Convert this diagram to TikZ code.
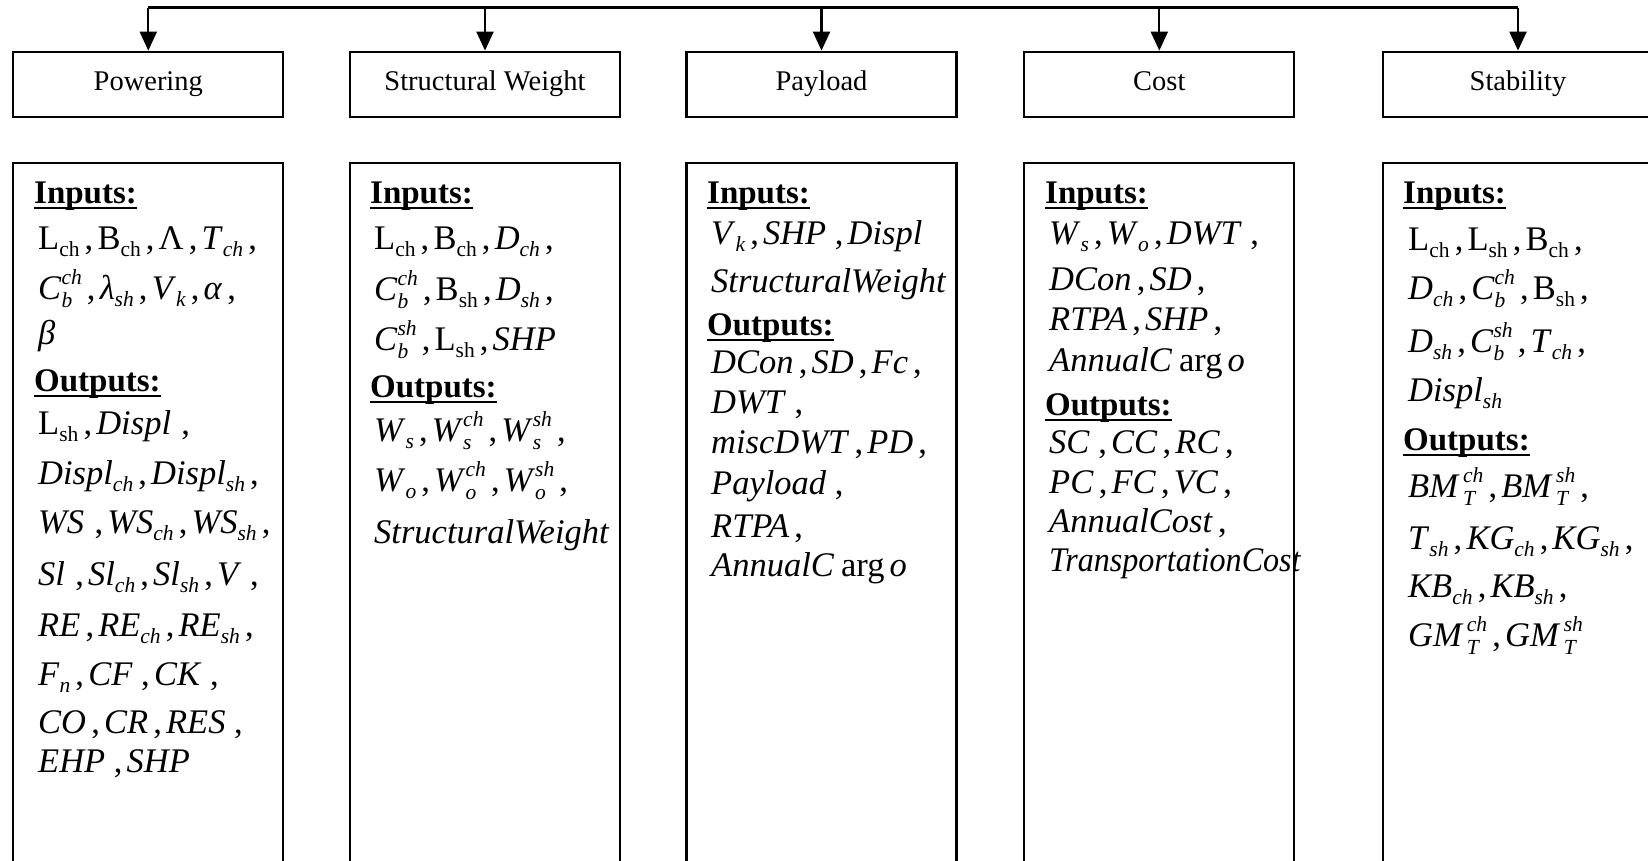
\documentclass[tikz,border=0pt]{standalone}
\usepackage{fontspec}
\usepackage{graphicx}
\setmainfont{Liberation Serif}
\usetikzlibrary{arrows.meta}

% font sizes
\newcommand\MainFont{\fontsize{34.5bp}{40bp}\selectfont}
\newcommand\LabelFont{\fontsize{33bp}{40bp}\selectfont}
\newcommand\HeadFont{\fontsize{28.5bp}{32bp}\selectfont}
\newcommand\SubFont{\fontsize{21.5bp}{21.5bp}\selectfont}

% subscripts / superscripts built in text mode
\newcommand\Lo[1]{\raisebox{-0.22em}{\SubFont #1}}
\newcommand\LoI[1]{\raisebox{-0.22em}{\SubFont\itshape #1}}
\newcommand\LoHi[2]{%
  \setbox0=\hbox{\raisebox{-0.24em}{\SubFont\itshape #1}}%
  \setbox2=\hbox{\raisebox{0.43em}{\SubFont\itshape #2}}%
  \ifdim\wd0>\wd2 \rlap{\copy2}\copy0 \else\rlap{\copy0}\copy2\fi}
\newcommand\Cm{\kern0.15em,\kern0.12em}
\newcommand\I[1]{\textit{#1}}

% underlined bold heading inside the panels
\newcommand\UL[1]{\setbox4=\hbox{#1}\rlap{\rule[-6bp]{\wd4}{2.5bp}}\box4}
\newcommand\Head[1]{{\LabelFont\UL{\textbf{#1}}}}

\tikzset{
  wire/.style={line width=2.2bp},
  drop/.style={wire, -{Triangle[width=17bp,length=19bp]}},
  headbox/.style={draw, line width=2.2bp, minimum width=270bp, minimum height=65bp,
    inner sep=0pt, font=\HeadFont, text height=19.5bp, text depth=7bp},
  panel/.style={draw, line width=2.2bp, minimum width=270bp, minimum height=800bp,
    inner sep=0pt, anchor=north},
  row/.style={anchor=base west, inner sep=0pt, font=\MainFont},
}

\begin{document}
\begin{tikzpicture}[x=1bp, y=-1bp]
\useasboundingbox (0,0) rectangle (1648,860);
\clip (0,0) rectangle (1648,860);

% module headers
\node[headbox] (powH) at (148.3,84.2) {Powering};
\node[headbox] (strH) at (485,84.2) {Structural Weight};
\node[headbox] (payH) at (821.5,84.2) {Payload};
\node[headbox] (cosH) at (1159.3,84.2) {Cost};
\node[headbox] (staH) at (1518,84.2) {Stability};

% distribution bus with drops to every module
\coordinate (busL) at (148.3,7.5);
\coordinate (busR) at (1518,7.5);
\draw[wire] (busL) -- (busR);
\foreach \h in {powH,strH,payH,cosH,staH}
  \draw[drop] (\h.north |- busL) -- (\h.north);

% input/output panels
\node[panel] (powP) at (148.3,161.5) {};
\node[panel] (strP) at (485,161.5) {};
\node[panel] (payP) at (821.5,161.5) {};
\node[panel] (cosP) at (1159.3,161.5) {};
\node[panel] (staP) at (1518,161.5) {};

% Powering
\node[row] (pw0) at (34,203) {\Head{Inputs:}};
\node[row] (pw1) at (38,249) {L\Lo{ch}\Cm B\Lo{ch}\Cm Λ\Cm\I{T}\LoI{ch}\Cm};
\node[row] (pw2) at (38,299) {\I{C}\LoHi{b}{ch}\Cm\I{λ}\LoI{sh}\Cm\I{V}\LoI{k}\Cm\I{α}\Cm};
\node[row] (pw3) at (38,344) {\I{β}};
\node[row] (pw4) at (34,391) {\Head{Outputs:}};
\node[row] (pw5) at (38,434) {L\Lo{sh}\Cm\I{Displ}\kern0.15em\Cm};
\node[row] (pw6) at (38,484) {\I{Displ}\LoI{ch}\Cm\I{Displ}\LoI{sh}\Cm};
\node[row] (pw7) at (38,533) {\I{WS}\kern0.15em\Cm\I{WS}\LoI{ch}\Cm\I{WS}\LoI{sh}\Cm};
\node[row] (pw8) at (38,585) {\I{Sl}\kern0.15em\Cm\I{Sl}\LoI{ch}\Cm\I{Sl}\LoI{sh}\Cm\I{V}\kern0.1em\Cm};
\node[row] (pw9) at (38,636) {\I{RE}\Cm\I{RE}\LoI{ch}\Cm\I{RE}\LoI{sh}\Cm};
\node[row] (pw10) at (38,685) {\I{F}\LoI{n}\Cm\I{CF}\kern0.1em\Cm\I{CK}\kern0.1em\Cm};
\node[row] (pw11) at (38,733) {\I{CO}\Cm\I{CR}\Cm\I{RES}\kern0.1em\Cm};
\node[row] (pw12) at (38,772) {\I{EHP}\kern0.1em\Cm\I{SHP}};

% Structural Weight
\node[row] (sw0) at (370,203) {\Head{Inputs:}};
\node[row] (sw1) at (374,249) {L\Lo{ch}\Cm B\Lo{ch}\Cm\I{D}\LoI{ch}\Cm};
\node[row] (sw2) at (374,300) {\I{C}\LoHi{b}{ch}\Cm B\Lo{sh}\Cm\I{D}\LoI{sh}\Cm};
\node[row] (sw3) at (374,350) {\I{C}\LoHi{b}{sh}\Cm L\Lo{sh}\Cm\I{SHP}};
\node[row] (sw4) at (370,397) {\Head{Outputs:}};
\node[row] (sw5) at (374,441) {\I{W}\LoI{s}\Cm\I{W}\LoHi{s}{ch}\Cm\I{W}\LoHi{s}{sh}\Cm};
\node[row] (sw6) at (374,491) {\I{W}\LoI{o}\Cm\I{W}\LoHi{o}{ch}\Cm\I{W}\LoHi{o}{sh}\Cm};
\node[row] (sw7) at (374,543) {\I{StructuralWeight}};

% Payload
\node[row] (pl0) at (707,203) {\Head{Inputs:}};
\node[row] (pl1) at (711,244) {\I{V}\LoI{k}\Cm\I{SHP}\kern0.1em\Cm\I{Displ}};
\node[row] (pl2) at (711,292) {\I{StructuralWeight}};
\node[row] (pl3) at (707,335) {\Head{Outputs:}};
\node[row] (pl4) at (711,373) {\I{DCon}\Cm\I{SD}\Cm\I{Fc}\Cm};
\node[row] (pl5) at (711,413) {\I{DWT}\kern0.1em\Cm};
\node[row] (pl6) at (711,453) {\I{miscDWT}\Cm\I{PD}\Cm};
\node[row] (pl7) at (711,494) {\I{Payload}\kern0.1em\Cm};
\node[row] (pl8) at (711,537) {\I{RTPA}\Cm};
\node[row] (pl9) at (711,576) {\I{AnnualC}\kern0.2em arg\kern0.15em\I{o}};

% Cost
\node[row] (co0) at (1045,203) {\Head{Inputs:}};
\node[row] (co1) at (1049,244) {\I{W}\LoI{s}\Cm\I{W}\LoI{o}\Cm\I{DWT}\kern0.1em\Cm};
\node[row] (co2) at (1049,290) {\I{DCon}\Cm\I{SD}\Cm};
\node[row] (co3) at (1049,330) {\I{RTPA}\Cm\I{SHP}\Cm};
\node[row] (co4) at (1049,371) {\I{AnnualC}\kern0.2em arg\kern0.15em\I{o}};
\node[row] (co5) at (1045,415) {\Head{Outputs:}};
\node[row] (co6) at (1049,453) {\I{SC}\kern0.1em\Cm\I{CC}\Cm\I{RC}\Cm};
\node[row] (co7) at (1049,493) {\I{PC}\Cm\I{FC}\Cm\I{VC}\Cm};
\node[row] (co8) at (1049,532) {\I{AnnualCost}\Cm};
\node[row] (co9) at (1049,571) {\scalebox{0.93}[1]{\I{TransportationCost}}};

% Stability
\node[row] (st0) at (1403,203) {\Head{Inputs:}};
\node[row] (st1) at (1408,250) {L\Lo{ch}\Cm L\Lo{sh}\Cm B\Lo{ch}\Cm};
\node[row] (st2) at (1408,299) {\I{D}\LoI{ch}\Cm\I{C}\LoHi{b}{ch}\Cm B\Lo{sh}\Cm};
\node[row] (st3) at (1408,352) {\I{D}\LoI{sh}\Cm\I{C}\LoHi{b}{sh}\Cm\I{T}\LoI{ch}\Cm};
\node[row] (st4) at (1408,401) {\I{Displ}\LoI{sh}};
\node[row] (st5) at (1403,450) {\Head{Outputs:}};
\node[row] (st6) at (1408,497) {\I{BM}\kern0.1em\LoHi{T}{ch}\Cm\I{BM}\kern0.1em\LoHi{T}{sh}\Cm};
\node[row] (st7) at (1408,549) {\I{T}\LoI{sh}\Cm\I{KG}\LoI{ch}\Cm\I{KG}\LoI{sh}\Cm};
\node[row] (st8) at (1408,597) {\I{KB}\LoI{ch}\Cm\I{KB}\LoI{sh}\Cm};
\node[row] (st9) at (1408,646) {\I{GM}\kern0.1em\LoHi{T}{ch}\Cm\I{GM}\kern0.1em\LoHi{T}{sh}};
\end{tikzpicture}
\end{document}
